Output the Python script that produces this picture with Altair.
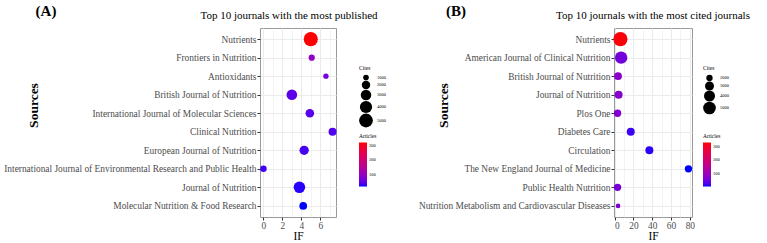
import altair as alt
import pandas as pd

# ---------------- data ----------------
a_journals = [
    "Nutrients",
    "Frontiers in Nutrition",
    "Antioxidants",
    "British Journal of Nutrition",
    "International Journal of Molecular Sciences",
    "Clinical Nutrition",
    "European Journal of Nutrition",
    "International Journal of Environmental Research and Public Health",
    "Journal of Nutrition",
    "Molecular Nutrition & Food Research",
]
a_if = [5.0, 5.1, 6.6, 3.0, 4.9, 7.3, 4.3, 0.0, 3.8, 4.2]
a_cites = [5300, 1170, 910, 3070, 2070, 1810, 2390, 1260, 3560, 1700]
a_articles = [325, 95, 65, 45, 42, 38, 33, 30, 22, 17]

b_journals = [
    "Nutrients",
    "American Journal of Clinical Nutrition",
    "British Journal of Nutrition",
    "Journal of Nutrition",
    "Plos One",
    "Diabetes Care",
    "Circulation",
    "The New England Journal of Medicine",
    "Public Health Nutrition",
    "Nutrition Metabolism and Cardiovascular Diseases",
]
b_if = [6.2, 7.0, 3.7, 4.3, 3.2, 17.2, 37.0, 78.5, 3.2, 3.7]
b_cites = [6000, 4830, 2480, 2590, 2350, 2590, 2590, 2350, 2350, 1550]
b_articles = [325, 55, 80, 75, 70, 20, 15, 8, 60, 70]

FONT = "Liberation Serif"
LABEL_GREY = "#4d4d4d"
GRID = "#ebebeb"
H = 189


def panel(journals, if_vals, cites, articles, *, tag, title, width, x_domain,
          grid_vals, major_step, size_domain, size_range, size_values,
          color_domain, title_dx, sources_x, legend_x):
    df = pd.DataFrame({"Journal": journals, "IF": if_vals,
                       "Cites": cites, "Articles": articles})
    minor_test = f"datum.value % {major_step} != 0"
    x_axis = alt.Axis(
        title="IF", values=grid_vals,
        labelExpr=f"datum.value % {major_step} == 0 ? datum.label : ''",
        labelFont=FONT, labelFontSize=9.4, labelColor=LABEL_GREY,
        labelPadding=1, tickSize=3, tickColor="#333333",
        tickOpacity={"condition": {"test": minor_test, "value": 0}, "value": 1},
        gridColor=GRID,
        gridWidth={"condition": {"test": minor_test, "value": 0.6}, "value": 1},
        domain=False, titleFont=FONT, titleFontSize=11.5,
        titleFontWeight="normal", titleColor="black", titlePadding=1,
    )
    y_axis = alt.Axis(
        title="Sources", labelFont=FONT, labelFontSize=9.4,
        labelColor=LABEL_GREY, labelLimit=400, labelPadding=1,
        tickSize=3, tickColor="#333333", gridColor=GRID, grid=True,
        domain=False, titleFont=FONT, titleFontSize=13.5,
        titleFontWeight="bold", titleColor="black", titleAngle=270,
        titleAlign="center", titleBaseline="middle",
        titleX=sources_x, titleY=77,
    )
    points = alt.Chart(df).mark_circle(opacity=1).encode(
        x=alt.X("IF:Q", scale=alt.Scale(domain=x_domain, nice=False, zero=False),
                axis=x_axis),
        y=alt.Y("Journal:N", sort=journals,
                scale=alt.Scale(type="point", padding=0.6), axis=y_axis),
        size=alt.Size(
            "Cites:Q",
            scale=alt.Scale(domain=size_domain, range=size_range, zero=False),
            legend=alt.Legend(
                title="Cites", values=size_values, format="d", orient="none",
                legendX=legend_x, legendY=38,
                titleFont=FONT, titleFontSize=5.5, titleFontWeight="normal",
                titleColor="black", titlePadding=3,
                labelFont=FONT, labelFontSize=4.5, labelColor="black",
                rowPadding=0, symbolType="circle", symbolStrokeWidth=0,
            ),
        ),
        color=alt.Color(
            "Articles:Q",
            scale=alt.Scale(domain=color_domain, range=["#0000ff", "#ff0000"],
                            interpolate="lab"),
            legend=alt.Legend(
                title="Articles", values=[100, 200, 300], orient="none",
                legendX=legend_x, legendY=106,
                titleFont=FONT, titleFontSize=5.5, titleFontWeight="normal",
                titleColor="black", titlePadding=3,
                labelFont=FONT, labelFontSize=4.5, labelColor="black",
                gradientLength=44, gradientThickness=8,
                gradientStrokeWidth=0, tickCount=3,
            ),
        ),
    )
    tag_layer = alt.Chart(pd.DataFrame({"tag": [tag]})).mark_text(
        font=FONT, fontSize=15, fontWeight="bold", color="black",
        align="center", baseline="middle",
    ).encode(text="tag:N", x=alt.value(sources_x + 13), y=alt.value(-17))

    return alt.layer(points, tag_layer).properties(
        width=width, height=H,
        title=alt.Title(title, font=FONT, fontSize=11, fontWeight="normal",
                        color="black", anchor="middle", dx=title_dx, offset=-17),
    )


panel_a = panel(
    a_journals, a_if, a_cites, a_articles,
    tag="(A)", title="Top 10 journals with the most published", width=76,
    x_domain=[-0.365, 7.665], grid_vals=list(range(0, 8)), major_step=2,
    size_domain=[600, 5300], size_range=[16, 201],
    size_values=[1000, 2000, 3000, 4000, 5000],
    color_domain=[17, 325], title_dx=-9, sources_x=-227, legend_x=99,
)
panel_b = panel(
    b_journals, b_if, b_cites, b_articles,
    tag="(B)", title="Top 10 journals with the most cited journals", width=78,
    x_domain=[-0.6, 82.3], grid_vals=list(range(0, 90, 10)), major_step=20,
    size_domain=[1500, 6000], size_range=[20, 201],
    size_values=[2000, 3000, 4000, 5000],
    color_domain=[8, 330], title_dx=0, sources_x=-171, legend_x=89,
)

chart = alt.hconcat(panel_a, panel_b, spacing=30).resolve_scale(
    color="independent", size="independent"
).resolve_legend(
    color="independent", size="independent"
).configure_view(stroke="#999999", strokeWidth=1).properties(
    padding={"left": 3, "top": 3, "right": 0, "bottom": 0},
    background="white",
)

chart.save("out.html", embed_options={"renderer": "svg", "actions": False})
